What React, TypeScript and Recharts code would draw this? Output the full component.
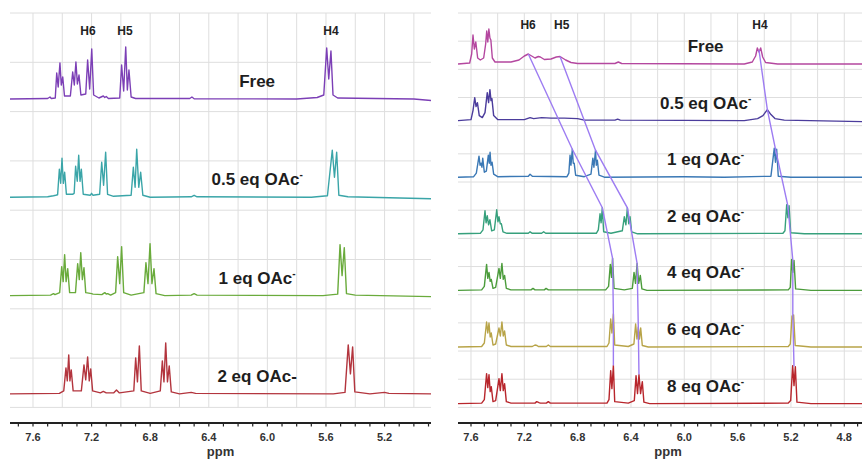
import React from 'react';
import { LineChart, Line, XAxis, YAxis, ReferenceLine, ReferenceDot, Label } from 'recharts';

const FONT = '"Liberation Sans", Arial, sans-serif';

// ---- spectra: [ppm, intensity above the trace's own baseline] ----

const LEFT_FREE: [number, number][] = [
  [7.757, 0], [7.5, 0.5], [7.484, 2], [7.475, 0.5], [7.448, 1], [7.438, 26], [7.428, 12], [7.416, 36],
  [7.407, 14], [7.397, 22], [7.385, 3], [7.345, 3], [7.329, 27], [7.318, 14], [7.307, 37], [7.297, 15],
  [7.286, 24], [7.273, 4], [7.24, 5], [7.227, 39], [7.213, 10], [7.199, 50], [7.186, 4], [7.15, 1],
  [7.12, 3], [7.11, 1.5], [7.1, 2.5], [7.085, 0.5], [7.008, 1], [6.995, 34], [6.981, 8], [6.967, 52],
  [6.956, 9], [6.945, 29], [6.93, 2], [6.9, 0.5], [6.53, 0.5], [6.515, 2], [6.5, 0.3], [5.8, 0],
  [5.66, 1.5], [5.615, 4], [5.595, 51], [5.581, 20], [5.566, 48], [5.552, 4], [5.52, 1], [5.0, 0], [4.883, -1.5],
];

const LEFT_HALF: [number, number][] = [
  [7.757, 0], [7.5, 0.5], [7.46, 1.5], [7.445, 2], [7.432, 2.5], [7.42, 28], [7.411, 14], [7.402, 39],
  [7.393, 14], [7.384, 25], [7.372, 3], [7.33, 3], [7.319, 4], [7.309, 31], [7.298, 16], [7.288, 42],
  [7.279, 16], [7.27, 28], [7.257, 3], [7.21, 2], [7.2, 4], [7.19, 2], [7.145, 3], [7.131, 35],
  [7.118, 12], [7.104, 45], [7.091, 3], [7.05, 1], [6.93, 2], [6.915, 30], [6.903, 10], [6.892, 48],
  [6.878, 10], [6.865, 25], [6.85, 2], [6.8, 0], [6.52, 0.5], [6.5, 2], [6.48, 0.5], [5.7, 0],
  [5.59, 1.5], [5.557, 47], [5.542, 20], [5.527, 45], [5.512, 2], [5.45, 0.5], [4.883, -1.5],
];

const LEFT_ONE: [number, number][] = [
  [7.757, 0], [7.48, 0.5], [7.46, 2], [7.45, 1], [7.418, 3], [7.404, 29], [7.394, 14], [7.384, 41],
  [7.374, 14], [7.363, 27], [7.35, 3], [7.31, 3], [7.295, 32], [7.284, 16], [7.274, 43], [7.263, 16],
  [7.252, 28], [7.24, 3], [7.2, 2], [7.19, 1.5], [7.13, 1], [7.11, 3], [7.1, 1.5], [7.09, 2],
  [7.07, 0.5], [7.036, 3], [7.022, 39], [7.008, 12], [6.995, 49], [6.981, 3], [6.93, 0.5], [6.843, 3],
  [6.829, 33], [6.815, 12], [6.801, 52], [6.788, 12], [6.774, 27], [6.76, 2], [6.7, 0], [6.52, 0.5],
  [6.5, 2], [6.48, 0.5], [5.62, 0], [5.52, 1.5], [5.504, 51], [5.49, 20], [5.475, 48], [5.46, 2],
  [5.4, 0.5], [4.883, -1],
];

const LEFT_TWO: [number, number][] = [
  [7.757, 0], [7.42, 0.5], [7.39, 3], [7.375, 26], [7.366, 13], [7.356, 39], [7.348, 13], [7.339, 24],
  [7.326, 3], [7.27, 3], [7.252, 29], [7.24, 14], [7.227, 37], [7.216, 13], [7.206, 25], [7.193, 3],
  [7.14, 1], [7.12, 2.5], [7.1, 1], [7.05, 1], [7.03, 4], [7.01, 1], [6.912, 3], [6.899, 36],
  [6.887, 12], [6.874, 48], [6.861, 3], [6.8, 0.5], [6.731, 3], [6.717, 33], [6.706, 12], [6.694, 51],
  [6.682, 12], [6.67, 28], [6.656, 2], [6.6, 0], [6.52, 1.5], [6.49, 0.5], [5.55, 0], [5.47, 1.5],
  [5.448, 49], [5.433, 20], [5.418, 47], [5.403, 2], [5.3, 0], [5.2, 1.5], [5.17, 0.5], [4.883, 0],
];

const RIGHT_FREE: [number, number][] = [
  [7.6975, 0], [7.61, 1], [7.595, 10], [7.585, 29], [7.575, 15], [7.564, 22], [7.55, 6], [7.53, 4],
  [7.505, 6], [7.49, 20], [7.482, 33], [7.474, 22], [7.466, 35], [7.458, 26], [7.451, 24], [7.44, 6],
  [7.42, 2], [7.3, 2], [7.24, 4], [7.2, 8], [7.17, 10], [7.145, 8], [7.12, 6], [7.095, 7.5],
  [7.08, 7], [7.05, 4.5], [7.0, 5], [6.96, 7], [6.932, 7.5], [6.89, 4], [6.85, 1.5], [6.8, 0.5],
  [6.52, 0.5], [6.495, 2], [6.47, 0.5], [5.55, 0], [5.49, 2], [5.465, 8], [5.452, 16], [5.44, 12],
  [5.427, 16], [5.412, 7], [5.39, 1.5], [5.3, 0], [4.667, 0],
];

const RIGHT_HALF: [number, number][] = [
  [7.6975, 0], [7.6, 1], [7.585, 10], [7.572, 23], [7.562, 14], [7.552, 18], [7.538, 5], [7.515, 3],
  [7.495, 8], [7.478, 28], [7.468, 18], [7.458, 31], [7.45, 20], [7.443, 22], [7.43, 5], [7.4, 1],
  [7.2, 1], [7.157, 3], [7.13, 2], [7.1, 2.5], [7.07, 3], [7.0, 2.5], [6.9, 2.5], [6.8, 2],
  [6.75, 0.5], [6.52, 0.5], [6.5, 1.5], [6.48, 0.5], [5.55, 0], [5.45, 2], [5.41, 5], [5.377, 11],
  [5.35, 6], [5.32, 2], [5.25, 0.5], [4.667, -1],
];

const RIGHT_ONE: [number, number][] = [
  [7.6975, 0], [7.58, 0.5], [7.56, 4], [7.54, 21], [7.532, 12], [7.525, 14], [7.518, 10], [7.512, 19],
  [7.5, 5], [7.485, 6], [7.47, 22], [7.463, 14], [7.457, 25], [7.45, 12], [7.442, 15], [7.43, 3],
  [7.4, 0.5], [7.17, 1], [7.157, 3], [7.14, 1], [6.88, 0.5], [6.866, 4], [6.857, 22], [6.85, 12],
  [6.84, 28], [6.833, 14], [6.826, 14], [6.815, 2], [6.75, 0.5], [6.7, 3], [6.686, 19], [6.678, 10],
  [6.666, 27], [6.66, 12], [6.652, 17], [6.64, 2], [6.6, 0], [6.0, 0.5], [5.7, 0], [5.35, 1],
  [5.325, 29], [5.316, 15], [5.307, 28], [5.295, 1], [5.2, 0], [4.667, 0],
];

const RIGHT_TWO: [number, number][] = [
  [7.6975, 0], [7.53, 0.5], [7.51, 4], [7.495, 23], [7.487, 11], [7.478, 18], [7.468, 9], [7.458, 14],
  [7.445, 3], [7.425, 4], [7.407, 24], [7.398, 12], [7.39, 17], [7.38, 10], [7.372, 10], [7.36, 2],
  [7.33, 0.5], [7.17, 0.5], [7.157, 2], [7.14, 0.5], [7.07, 0.5], [7.055, 2], [7.04, 0.5], [6.66, 0.5],
  [6.645, 4], [6.632, 20], [6.624, 11], [6.615, 26], [6.605, 2], [6.55, 0.5], [6.465, 3], [6.45, 17],
  [6.438, 9], [6.427, 26], [6.417, 10], [6.407, 17], [6.395, 2], [6.35, 0], [5.26, 0.5], [5.245, 3],
  [5.232, 29], [5.223, 16], [5.214, 28], [5.202, 1], [5.1, 0], [4.667, 0],
];

const RIGHT_FOUR: [number, number][] = [
  [7.6975, 0], [7.52, 0.5], [7.5, 4], [7.483, 26], [7.474, 12], [7.465, 18], [7.456, 9], [7.448, 11],
  [7.435, 2], [7.415, 3], [7.39, 22], [7.38, 12], [7.368, 27], [7.358, 11], [7.348, 15], [7.335, 2],
  [7.3, 0.5], [7.15, 0.5], [7.135, 2], [7.12, 0.5], [7.05, 0.5], [7.037, 2], [7.02, 0.5], [6.59, 0.5],
  [6.568, 4], [6.555, 26], [6.546, 13], [6.538, 32], [6.527, 2], [6.45, 0.5], [6.39, 2], [6.377, 18],
  [6.366, 7], [6.354, 27], [6.342, 7], [6.33, 15], [6.318, 1.5], [6.28, 0], [5.22, 0.5], [5.205, 3],
  [5.195, 31], [5.186, 18], [5.177, 30], [5.165, 1.5], [5.05, 0], [4.667, 0],
];

const RIGHT_SIX: [number, number][] = [
  [7.6975, 0], [7.52, 0.5], [7.5, 4], [7.483, 25], [7.474, 14], [7.465, 24], [7.456, 10], [7.448, 14],
  [7.435, 2], [7.415, 3], [7.39, 19], [7.38, 11], [7.368, 25], [7.358, 11], [7.348, 16], [7.335, 2],
  [7.3, 0.5], [7.14, 0.5], [7.12, 2], [7.105, 1.5], [7.095, 0.5], [7.035, 0.5], [7.02, 2], [7.005, 0.5],
  [6.58, 0.5], [6.565, 4], [6.552, 28], [6.543, 14], [6.532, 33], [6.522, 2], [6.42, 0.5], [6.378, 3],
  [6.365, 23], [6.355, 8], [6.345, 20], [6.336, 8], [6.327, 19], [6.315, 1.5], [6.27, 0], [5.22, 0.5],
  [5.205, 3], [5.192, 31], [5.186, 28], [5.18, 32], [5.168, 1.5], [5.05, 0], [4.667, 0],
];

const RIGHT_EIGHT: [number, number][] = [
  [7.6975, 0], [7.52, 0.5], [7.5, 4], [7.483, 30], [7.474, 16], [7.465, 29], [7.456, 12], [7.448, 17],
  [7.435, 2], [7.415, 3], [7.39, 25], [7.38, 13], [7.368, 30], [7.358, 13], [7.348, 20], [7.335, 2],
  [7.3, 0.5], [7.12, 0.5], [7.107, 2], [7.09, 1], [7.08, 0.5], [7.035, 0.5], [7.02, 2], [7.005, 0.5],
  [6.58, 0.5], [6.565, 4], [6.552, 33], [6.543, 15], [6.532, 38], [6.522, 2], [6.42, 0.5], [6.375, 3],
  [6.362, 28], [6.351, 10], [6.34, 29], [6.328, 10], [6.315, 22], [6.303, 1.5], [6.26, 0], [5.22, 0.5],
  [5.202, 3], [5.187, 38], [5.177, 18], [5.167, 37], [5.155, 1.5], [5.05, 0], [4.667, 0],
];

const LEFT_SPECTRA = [LEFT_FREE, LEFT_HALF, LEFT_ONE, LEFT_TWO];
const LEFT_NAMES = ['Free', '0.5 eq OAc', '1 eq OAc', '2 eq OAc-'];
const LEFT_SUPS = ['', '-', '-', ''];
const LEFT_COLORS = ['#7c3fb6', '#3aa5a8', '#6aab3c', '#b3353e'];

const RIGHT_SPECTRA = [RIGHT_FREE, RIGHT_HALF, RIGHT_ONE, RIGHT_TWO, RIGHT_FOUR, RIGHT_SIX, RIGHT_EIGHT];
const RIGHT_NAMES = ['Free', '0.5 eq OAc', '1 eq OAc', '2 eq OAc', '4 eq OAc', '6 eq OAc', '8 eq OAc'];
const RIGHT_SUPS = ['', '-', '-', '-', '-', '-', '-'];
const RIGHT_COLORS = ['#b4479f', '#4b3c9c', '#3a78b5', '#36a07c', '#4c9c3c', '#b8a448', '#b8262c'];

// proton assignments: [name, ppm]
const LEFT_PROTONS: [string, number][] = [['H6', 7.225], ['H5', 6.972], ['H4', 5.566]];
const RIGHT_PROTONS: [string, number][] = [['H6', 7.172], ['H5', 6.92], ['H4', 5.432]];

// peak tracking across the titration: [spectrum index, ppm, peak height]
const TRACK_H6: [number, number, number][] = [[0, 7.17, 10], [2, 6.84, 28], [3, 6.615, 26], [4, 6.538, 32], [5, 6.532, 33], [6, 6.532, 38]];
const TRACK_H5: [number, number, number][] = [[0, 6.932, 7.5], [2, 6.666, 27], [3, 6.427, 26], [4, 6.354, 27], [5, 6.345, 20], [6, 6.34, 29]];
const TRACK_H4: [number, number, number][] = [[0, 5.44, 14], [1, 5.377, 11], [2, 5.316, 28], [3, 5.223, 28], [4, 5.186, 30], [5, 5.186, 32], [6, 5.177, 37]];

// ---- layout ----
const W = 431;
const H = 465;
const TOP = 13;
const AXIS_H = 42;
const Y_MAX = 410;
const GRID_LOW = 15.6;
const GRID_COLOR = '#dedede';

const PpmTick = (props: any) => {
  const { x, y, payload } = props;
  const tenth = Math.round(payload.value * 10);
  return (
    <g>
      <line x1={x} x2={x} y1={y} y2={y + 3.5} stroke="#222" strokeWidth={1.2} />
      {tenth % 4 === 0 && (
        <text x={x} y={y + 18} textAnchor="middle" fontSize={11} fontWeight="bold" fill="#333" fontFamily={FONT}>
          {(tenth / 10).toFixed(1)}
        </text>
      )}
    </g>
  );
};

type PanelProps = {
  x0: number;
  marginLeft: number;
  domain: [number, number];
  spectra: [number, number][][];
  names: string[];
  sups: string[];
  colors: string[];
  base0: number;
  step: number;
  gridRows: number;
  protons: [string, number][];
  protonY: number;
  tracks: [number, number, number][][];
  nameAt: number;
  ppmDx: number;
};

function Panel(p: PanelProps) {
  const base = (i: number) => p.base0 - i * p.step;

  const ticks: number[] = [];
  const vgrid: number[] = [];
  for (let t = 40; t <= 80; t++) {
    const v = t / 10;
    if (v < p.domain[0] || v > p.domain[1]) continue;
    ticks.push(v);
    if (t % 2 === 0) vgrid.push(v);
  }
  const hstep = (Y_MAX - GRID_LOW) / p.gridRows;
  const hgrid = Array.from({ length: p.gridRows + 1 }, (_, k) => GRID_LOW + k * hstep);

  return (
    <div style={{ position: 'absolute', left: p.x0, top: 0 }}>
      <LineChart width={W} height={H} margin={{ top: TOP, right: 0, bottom: 0, left: p.marginLeft }}>
        <XAxis
          type="number"
          dataKey="x"
          domain={p.domain}
          reversed
          allowDataOverflow
          ticks={ticks}
          interval={0}
          tick={<PpmTick />}
          tickLine={false}
          tickSize={0}
          tickMargin={0}
          height={AXIS_H}
          axisLine={{ stroke: '#222', strokeWidth: 2 }}
        >
          <Label value="ppm" position="insideBottom" offset={9} dx={p.ppmDx}
            style={{ fontSize: 13, fontWeight: 'bold', fill: '#333', fontFamily: FONT }} />
        </XAxis>
        <YAxis type="number" domain={[0, Y_MAX]} hide allowDataOverflow />

        {hgrid.map((v) => (
          <ReferenceLine key={'h' + v} y={v} stroke={GRID_COLOR} strokeWidth={1} />
        ))}
        {vgrid.map((v) => (
          <ReferenceLine key={'v' + v} segment={[{ x: v, y: GRID_LOW }, { x: v, y: Y_MAX }]} stroke={GRID_COLOR} strokeWidth={1} />
        ))}

        {p.spectra.map((s, i) => (
          <Line
            key={'s' + i}
            data={s.map(([x, h]) => ({ x, y: base(i) + h }))}
            dataKey="y"
            type="linear"
            stroke={p.colors[i]}
            strokeWidth={1.4}
            strokeLinejoin="round"
            dot={false}
            activeDot={false}
            isAnimationActive={false}
          />
        ))}

        {p.tracks.map((tr, k) => (
          <Line
            key={'t' + k}
            data={tr.map(([i, x, h]) => ({ x, y: base(i) + h }))}
            dataKey="y"
            type="linear"
            stroke="#9d7cf2"
            strokeWidth={1.4}
            dot={false}
            activeDot={false}
            isAnimationActive={false}
          />
        ))}

        {p.protons.map(([name, ppm]) => (
          <ReferenceDot
            key={name}
            x={ppm}
            y={p.protonY}
            r={0}
            shape={(d: any) => (
              <text x={d.cx} y={d.cy} textAnchor="middle" dominantBaseline="central" fontSize={12} fontWeight="bold" fill="#222" fontFamily={FONT}>
                {name}
              </text>
            )}
          />
        ))}

        {p.names.map((name, i) => (
          <ReferenceDot
            key={'n' + i}
            x={p.nameAt}
            y={base(i) + 12}
            r={0}
            shape={(d: any) => (
              <text x={d.cx} y={d.cy} textAnchor="middle" fontSize={17} fontWeight="bold" fill="#1e1e1e" fontFamily={FONT}>
                {name}
                {p.sups[i] && <tspan dy={-7} fontSize={10}>{p.sups[i]}</tspan>}
              </text>
            )}
          />
        ))}
      </LineChart>
    </div>
  );
}

export default function App() {
  return (
    <div style={{ position: 'absolute', left: 0, top: 0, width: 862, height: 465, background: '#fff', overflow: 'hidden' }}>
      <Panel
        x0={0}
        marginLeft={10}
        domain={[4.883, 7.757]}
        spectra={LEFT_SPECTRA}
        names={LEFT_NAMES}
        sups={LEFT_SUPS}
        colors={LEFT_COLORS}
        base0={324}
        step={98.3}
        gridRows={8}
        protons={LEFT_PROTONS}
        protonY={392}
        tracks={[]}
        nameAt={6.07}
        ppmDx={0}
      />
      <Panel
        x0={431}
        marginLeft={27}
        domain={[4.667, 7.6975]}
        spectra={RIGHT_SPECTRA}
        names={RIGHT_NAMES}
        sups={RIGHT_SUPS}
        colors={RIGHT_COLORS}
        base0={359}
        step={56.6}
        gridRows={14}
        protons={RIGHT_PROTONS}
        protonY={398}
        tracks={[TRACK_H6, TRACK_H5, TRACK_H4]}
        nameAt={5.84}
        ppmDx={8}
      />
    </div>
  );
}
